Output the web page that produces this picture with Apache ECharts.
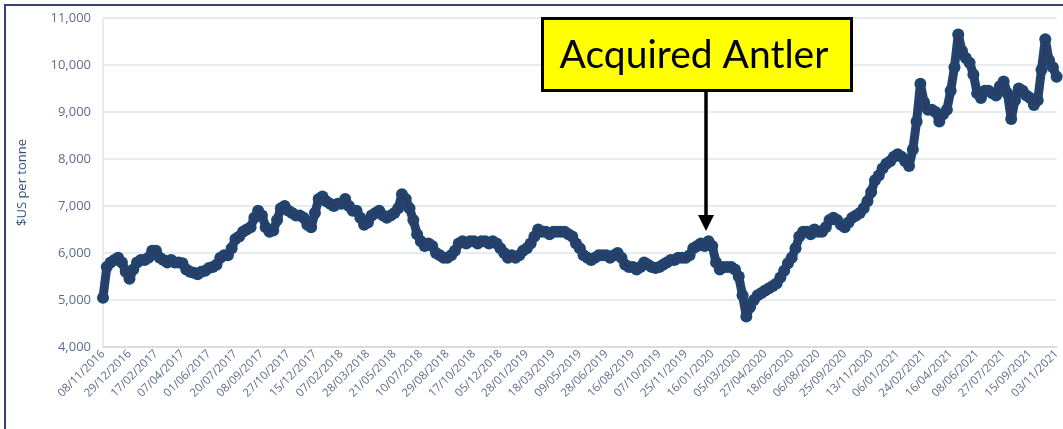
<!DOCTYPE html>
<html>
<head>
<meta charset="utf-8">
<script src="https://cdn.jsdelivr.net/npm/echarts@6/dist/echarts.min.js"></script>
<style>
  html, body { margin: 0; padding: 0; background: #ffffff; }
  #chart { width: 1063px; height: 429px; position: absolute; left: 0; top: 0; }
  #frame { position: absolute; left: 4px; top: 4px; width: 1100px; height: 500px;
           border: 2px solid #34466e; pointer-events: none; box-sizing: border-box; }
</style>
</head>
<body>
<div id="chart"></div>
<div id="frame"></div>
<script>
// Date tick labels (every 35 trading days = 7 weekly points)
const tickLabels = [
  '08/11/2016','29/12/2016','17/02/2017','07/04/2017','01/06/2017','20/07/2017',
  '08/09/2017','27/10/2017','15/12/2017','07/02/2018','28/03/2018','21/05/2018',
  '10/07/2018','29/08/2018','17/10/2018','05/12/2018','28/01/2019','18/03/2019',
  '09/05/2019','28/06/2019','16/08/2019','07/10/2019','25/11/2019','16/01/2020',
  '05/03/2020','27/04/2020','18/06/2020','06/08/2020','25/09/2020','13/11/2020',
  '06/01/2021','24/02/2021','16/04/2021','08/06/2021','27/07/2021','15/09/2021',
  '03/11/2021'
];
const pointsPerTick = 7;

// Copper price, $US per tonne, weekly readings (7 per tick interval)
const copperWeekly = [
  5050, 5700, 5800, 5850, 5900, 5800, 5600,
  5450, 5650, 5800, 5850, 5850, 5900, 6050,
  6050, 5900, 5850, 5800, 5850, 5800, 5800,
  5780, 5650, 5600, 5580, 5550, 5600, 5620,
  5680, 5700, 5750, 5900, 5950, 5950, 6100,
  6300, 6350, 6450, 6500, 6550, 6750, 6900,
  6800, 6550, 6450, 6480, 6700, 6950, 7000,
  6900, 6850, 6800, 6800, 6750, 6600, 6550,
  6850, 7150, 7200, 7100, 7050, 7000, 7050,
  7050, 7150, 7000, 6900, 6900, 6750, 6600,
  6650, 6800, 6850, 6900, 6800, 6750, 6800,
  6850, 6950, 7250, 7150, 6950, 6700, 6400,
  6250, 6150, 6200, 6150, 6000, 5950, 5900,
  5900, 5950, 6050, 6200, 6250, 6200, 6250,
  6250, 6200, 6250, 6250, 6200, 6250, 6200,
  6100, 6000, 5900, 5950, 5900, 5950, 6050,
  6100, 6200, 6350, 6500, 6450, 6450, 6400,
  6450, 6450, 6450, 6450, 6400, 6350, 6200,
  6100, 5950, 5900, 5850, 5900, 5950, 5950,
  5950, 5900, 5950, 6000, 5900, 5750, 5700,
  5700, 5650, 5700, 5800, 5750, 5700, 5680,
  5700, 5750, 5800, 5850, 5850, 5900, 5900,
  5900, 5950, 6100, 6150, 6200, 6150, 6250,
  6150, 5800, 5650, 5700, 5700, 5700, 5650,
  5500, 5100, 4650, 4850, 5000, 5100, 5150,
  5200, 5250, 5300, 5350, 5480, 5620, 5780,
  5900, 6100, 6350, 6450, 6450, 6400, 6500,
  6450, 6450, 6550, 6700, 6750, 6700, 6600,
  6550, 6650, 6750, 6800, 6850, 6950, 7100,
  7300, 7550, 7650, 7800, 7900, 7950, 8050,
  8100, 8050, 7950, 7850, 8200, 8800, 9600,
  9200, 9050, 9050, 9000, 8800, 8950, 9050,
  9450, 9950, 10650, 10300, 10150, 10050, 9800,
  9400, 9300, 9450, 9450, 9400, 9350, 9550,
  9650, 9400, 8850, 9250, 9500, 9450, 9350,
  9300, 9150, 9250, 9900, 10550, 10100, 9950,
  9750
];

const categories = copperWeekly.map(function (v, i) {
  return i % pointsPerTick === 0 ? tickLabels[i / pointsPerTick] : 'w' + i;
});

const yMin = 4000, yMax = 11000, yStep = 1000;
const annotationText = 'Acquired Antler';

const chart = echarts.init(document.getElementById('chart'), null, { renderer: 'canvas' });

chart.setOption({
  animation: false,
  backgroundColor: '#ffffff',
  grid: { left: 103, right: 6, top: 18, bottom: 82, containLabel: false },
  xAxis: {
    type: 'category',
    data: categories,
    boundaryGap: false,
    axisLine: { show: true, lineStyle: { color: '#d3d7db', width: 1.5 } },
    axisTick: { show: false },
    splitLine: { show: false },
    axisLabel: {
      interval: pointsPerTick - 1,
      rotate: 45,
      margin: 5,
      fontFamily: 'Open Sans',
      fontSize: 11.5,
      color: '#5d6d8a',
      formatter: function (val, idx) {
        return idx % pointsPerTick === 0 ? tickLabels[idx / pointsPerTick] : '';
      }
    }
  },
  yAxis: {
    type: 'value',
    min: yMin,
    max: yMax,
    interval: yStep,
    name: '$US per tonne',
    nameLocation: 'middle',
    nameRotate: 90,
    nameGap: 74,
    nameTextStyle: { fontFamily: 'Open Sans', fontSize: 13, color: '#34527f' },
    axisLine: { show: true, lineStyle: { color: '#e2e6ea', width: 1.5 } },
    axisTick: { show: false },
    splitLine: { show: true, lineStyle: { color: '#e2e6ea', width: 1.5 } },
    axisLabel: {
      margin: 12,
      fontFamily: 'Open Sans',
      fontSize: 13,
      color: '#5d6d8a',
      formatter: function (v) { return v.toLocaleString('en-US'); }
    }
  },
  series: [{
    type: 'line',
    data: copperWeekly,
    symbol: 'circle',
    symbolSize: 12,
    showSymbol: true,
    showAllSymbol: true,
    itemStyle: { color: '#1f4470' },
    lineStyle: { color: '#1f4470', width: 9, join: 'round', cap: 'round' },
    z: 3
  }, {
    type: 'line',
    data: copperWeekly,
    symbol: 'none',
    lineStyle: { color: '#3d3558', width: 1.5 },
    z: 4,
    silent: true
  }],
  graphic: [
    {
      type: 'rect',
      shape: { x: 542.5, y: 18.5, width: 309, height: 72 },
      style: { fill: '#ffff00', stroke: '#000000', lineWidth: 3 },
      z: 10
    },
    {
      type: 'text',
      style: {
        x: 694, y: 55, text: annotationText,
        fontFamily: 'Lato', fontSize: 39, fill: '#000000',
        align: 'center', verticalAlign: 'middle'
      },
      z: 11
    },
    {
      type: 'line',
      shape: { x1: 706, y1: 91, x2: 706, y2: 218 },
      style: { stroke: '#000000', lineWidth: 3.5 },
      z: 10
    },
    {
      type: 'polygon',
      shape: { points: [[698, 215], [714, 215], [706, 231]] },
      style: { fill: '#000000' },
      z: 10
    }
  ]
});
</script>
</body>
</html>
